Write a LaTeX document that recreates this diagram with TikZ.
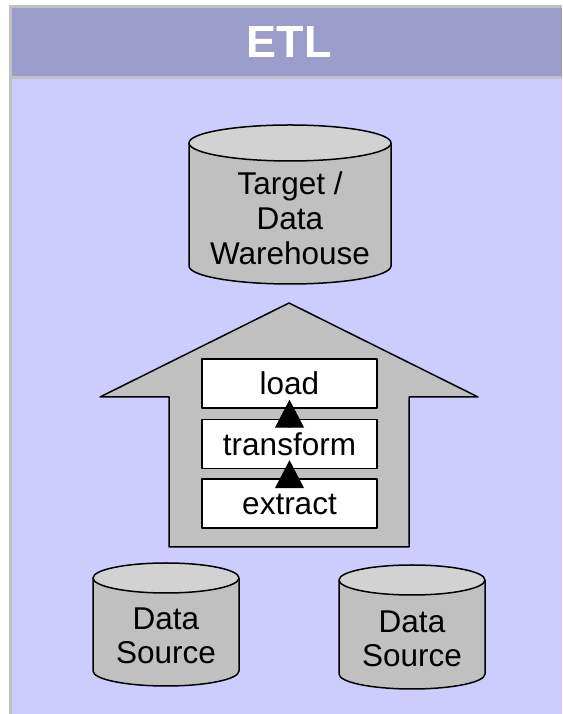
\documentclass[tikz,border=0pt]{standalone}
\usepackage{fontspec}
\setmainfont{Liberation Sans}
\usetikzlibrary{arrows.meta}

\definecolor{panelframe}{HTML}{C0C0C0}
\definecolor{titleband}{HTML}{9B9DCA}
\definecolor{panelbody}{HTML}{CCCCFF}
\definecolor{shapegray}{HTML}{C0C0C0}
\definecolor{captop}{HTML}{D2D2D2}

\tikzset{
  outline/.style={draw=black, line width=1.5pt, line join=round},
  cyllabel/.style={align=center, font=\fontsize{31.5}{35}\selectfont, inner sep=0pt},
  stagebox/.style={outline, fill=white, minimum width=175pt, minimum height=49pt,
    text height=22.5pt, text depth=0pt, inner sep=0pt, font=\fontsize{31.5}{35}\selectfont},
  flowtip/.style={-{Triangle[length=28pt,width=29pt]}, line width=1pt},
}

% cylinder: centre x, top y, bottom y, half width, cap radius
\newcommand\etlcylinder[5]{%
  \fill[shapegray] (#1-#4,#2-#5) -- (#1-#4,#3+#5)
    arc[start angle=180, end angle=360, x radius=#4pt, y radius=#5pt]
    -- (#1+#4,#2-#5) -- cycle;
  \draw[outline] (#1-#4,#2-#5) -- (#1-#4,#3+#5)
    arc[start angle=180, end angle=360, x radius=#4pt, y radius=#5pt]
    -- (#1+#4,#2-#5);
  \filldraw[outline, fill=captop] (#1,#2-#5) ellipse [x radius=#4pt, y radius=#5pt];
}

\begin{document}
\begin{tikzpicture}[x=1pt, y=1pt]
\useasboundingbox (0,0) rectangle (562,714);

% panel with title band
\fill[white] (0,0) rectangle (562,714);
\fill[panelframe] (9,0) rectangle (562,709);
\fill[titleband] (12,638) rectangle (562,706);
\fill[panelbody] (12,0) rectangle (562,635);
\node[text=white, font=\bfseries\fontsize{45}{45}\selectfont] (title) at (289,672) {ETL};

% target warehouse
\etlcylinder{290}{589}{430}{101}{18}
\node[cyllabel] (target) at (290,495.5) {Target /\\Data\\Warehouse};

% process arrow
\draw[outline, fill=shapegray] (289,411) -- (478,317) -- (409,317) -- (409,167)
  -- (169,167) -- (169,317) -- (100,317) -- cycle;

\node[stagebox] (load) at (289.5,330.5) {load};
\node[stagebox] (transform) at (289.5,270) {transform};
\node[stagebox] (extract) at (289.5,210.5) {extract};

\draw[flowtip] ([yshift=-9pt]extract.north) -- ([yshift=9pt]transform.south);
\draw[flowtip] ([yshift=-9pt]transform.north) -- ([yshift=9pt]load.south);

% sources
\etlcylinder{166}{151}{28}{73}{15}
\node[cyllabel, font=\fontsize{31.5}{34}\selectfont] (srcA) at (166,78) {Data\\Source};
\etlcylinder{412}{149}{25}{73}{15}
\node[cyllabel, font=\fontsize{31.5}{34}\selectfont] (srcB) at (412,75) {Data\\Source};
\end{tikzpicture}
\end{document}
